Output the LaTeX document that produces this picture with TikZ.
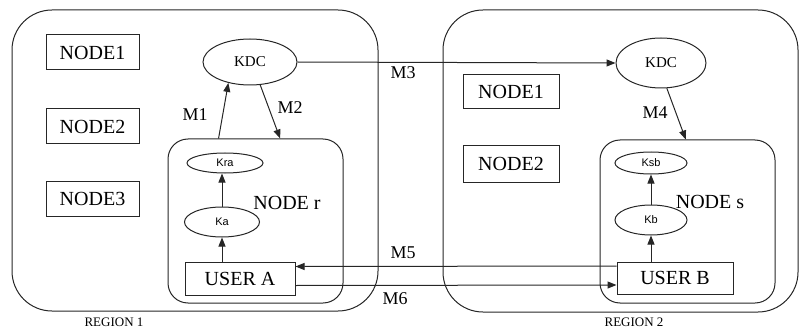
\documentclass[tikz,border=0pt]{standalone}
\usepackage{fontspec}
\setmainfont{Liberation Serif}
\newfontfamily\labelfont{Liberation Serif}
\newfontfamily\keyfont{Liberation Sans}
\usetikzlibrary{arrows.meta,shapes.geometric,calc}

\tikzset{
  base/.style={line width=1pt, draw=black!85},
  region/.style={base, rounded corners=40pt, inner sep=0pt},
  hostbox/.style={base, rounded corners=20pt, inner sep=0pt},
  plainbox/.style={base, rectangle, inner sep=0pt, font=\labelfont\fontsize{20}{22}\selectfont},
  kdcnode/.style={base, ellipse, inner sep=0pt, font=\labelfont\fontsize{15}{17}\selectfont},
  keynode/.style={base, ellipse, inner sep=0pt, font=\keyfont\fontsize{11}{13}\selectfont},
  msg/.style={font=\labelfont\fontsize{18}{20}\selectfont, inner sep=0pt},
  hostlabel/.style={font=\labelfont\fontsize{20}{22}\selectfont, inner sep=0pt},
  regionlabel/.style={font=\labelfont\fontsize{13}{15}\selectfont, inner sep=0pt},
  arr/.style={base, -{Triangle[length=9pt,width=7pt]}},
}

\begin{document}
\begin{tikzpicture}[x=1pt, y=-1pt]
\useasboundingbox (0,0) rectangle (799,331);

% regions
\node[region, minimum width=366pt, minimum height=301pt] (region1) at (195,160.5) {};
\node[region, minimum width=355pt, minimum height=302pt] (region2) at (620.5,161) {};
\node[regionlabel] (reglab1) at (114,322) {REGION 1};
\node[regionlabel] (reglab2) at (634,322) {REGION 2};

% region 1 contents
\node[plainbox, minimum width=93pt, minimum height=35pt] (n1a) at (92.5,52.5) {NODE1};
\node[plainbox, minimum width=93pt, minimum height=35pt] (n2a) at (92.5,126.5) {NODE2};
\node[plainbox, minimum width=93pt, minimum height=35pt] (n3a) at (92.5,199) {NODE3};
\node[kdcnode, minimum width=94pt, minimum height=46pt] (kdcL) at (250,62) {KDC};
\node[hostbox, minimum width=175pt, minimum height=164pt] (noder) at (255.5,221) {};
\node[hostlabel] (noderlab) at (287,203) {NODE r};
\node[keynode, minimum width=76pt, minimum height=20pt] (kra) at (225,163) {Kra};
\node[keynode, minimum width=75pt, minimum height=30pt] (ka) at (222,222) {Ka};
\node[plainbox, minimum width=110pt, minimum height=33pt] (userA) at (240,278.5) {USER A};

% region 2 contents
\node[plainbox, minimum width=96pt, minimum height=34pt] (n1b) at (511,92) {NODE1};
\node[plainbox, minimum width=96pt, minimum height=36pt] (n2b) at (511,164) {NODE2};
\node[kdcnode, minimum width=90pt, minimum height=50pt] (kdcR) at (661,63) {KDC};
\node[hostbox, minimum width=175pt, minimum height=163pt] (nodes) at (687.5,221.5) {};
\node[hostlabel] (nodeslab) at (710,202) {NODE s};
\node[keynode, minimum width=72pt, minimum height=22pt] (ksb) at (651,163) {Ksb};
\node[keynode, minimum width=72pt, minimum height=30pt] (kb) at (651,220) {Kb};
\node[plainbox, minimum width=116pt, minimum height=32pt] (userB) at (675,278) {USER B};

% key chains inside the hosts
\draw[arr] (ka.north) -- (ka.north |- kra.south);
\draw[arr] (userA.north -| ka) -- (ka.south);
\draw[arr] (kb.north) -- (kb.north |- ksb.south);
\draw[arr] (userB.north -| kb) -- (kb.south);

% messages
\draw[arr] ($(noder.north west)!0.29!(noder.north east)$) -- (kdcL.224);
\draw[arr] (kdcL.294) -- ($(noder.north west)!0.64!(noder.north east)$);
\draw[arr] (kdcL.east) -- (kdcR.west);
\draw[arr] (kdcR.283) -- ($(nodes.north west)!0.49!(nodes.north east)$);
\draw[arr] ([yshift=12pt]userB.west) -- ([yshift=12pt]userA.east);
\draw[arr] ([yshift=-7pt]userA.east) -- ([yshift=-7pt]userB.west);

\node[msg] (m1) at (195,115) {M1};
\node[msg] (m2) at (290,108) {M2};
\node[msg] (m3) at (403,73) {M3};
\node[msg] (m4) at (655,113) {M4};
\node[msg] (m5) at (403,253) {M5};
\node[msg] (m6) at (395,299) {M6};
\end{tikzpicture}
\end{document}
